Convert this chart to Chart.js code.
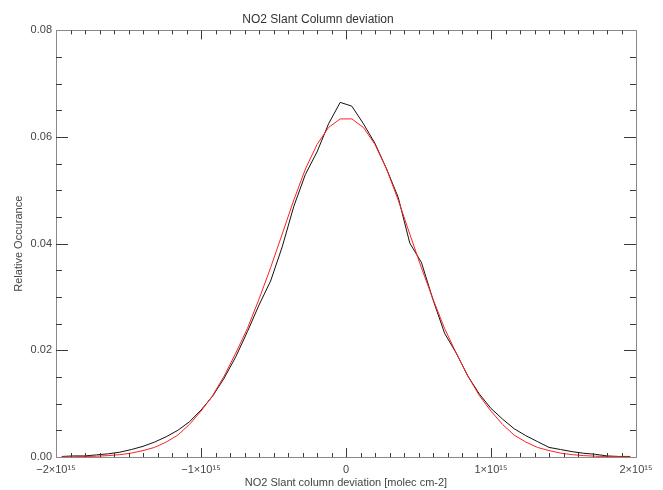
<!DOCTYPE html>
<html>
<head>
    <title>NO2 Slant Column deviation</title>
    <script src="https://cdn.jsdelivr.net/npm/chart.js"></script>
    <style>
        body { margin: 0; background: #fff; }
    </style>
</head>
<body>
    <canvas id="devChart" width="663" height="490"></canvas>

    <script>
        // bin centres, in units of 10^15 molec cm-2
        var binCenters = [-1.96, -1.88, -1.80, -1.72, -1.64, -1.56, -1.48, -1.40, -1.32, -1.24,
                          -1.16, -1.08, -1.00, -0.92, -0.84, -0.76, -0.68, -0.60, -0.52, -0.44,
                          -0.36, -0.28, -0.20, -0.12, -0.04, 0.04, 0.12, 0.20, 0.28, 0.36,
                          0.44, 0.52, 0.60, 0.68, 0.76, 0.84, 0.92, 1.00, 1.08, 1.16,
                          1.24, 1.32, 1.40, 1.48, 1.56, 1.64, 1.72, 1.80, 1.88, 1.96];

        // measured histogram (black)
        var occurance = [0.0001, 0.0002, 0.0002, 0.0004, 0.0006, 0.0009, 0.0014, 0.0020, 0.0028, 0.0038,
                         0.0050, 0.0066, 0.0088, 0.0114, 0.0148, 0.0188, 0.0235, 0.0285, 0.0330, 0.0394,
                         0.0470, 0.0530, 0.0572, 0.0625, 0.0665, 0.0658, 0.0625, 0.0588, 0.0540, 0.0487,
                         0.0401, 0.0365, 0.0295, 0.0232, 0.0195, 0.0152, 0.0118, 0.0091, 0.0071, 0.0053,
                         0.0040, 0.0029, 0.0018, 0.0014, 0.0010, 0.0007, 0.0005, 0.0002, 0.0001, 0.0001];

        // fitted gaussian (red)
        var gaussFit = [0.00002, 0.00005, 0.00009, 0.00015, 0.00026, 0.00044, 0.00073, 0.0012, 0.0018, 0.0028,
                        0.0041, 0.0061, 0.0086, 0.0115, 0.0152, 0.0195, 0.0241, 0.0296, 0.0355, 0.0418,
                        0.0482, 0.0540, 0.0586, 0.0618, 0.0634, 0.0634, 0.0618, 0.0586, 0.0540, 0.0482,
                        0.0418, 0.0355, 0.0296, 0.0241, 0.0195, 0.0152, 0.0115, 0.0086, 0.0061, 0.0041,
                        0.0028, 0.0018, 0.0012, 0.00073, 0.00044, 0.00026, 0.00015, 0.00009, 0.00005, 0.00002];

        var xTickLabels = {'-2': '\u22122\u00d710\u00b9\u2075', '-1': '\u22121\u00d710\u00b9\u2075', '0': '0',
                           '1': '1\u00d710\u00b9\u2075', '2': '2\u00d710\u00b9\u2075'};

        function toPoints(xs, ys) {
            var pts = [];
            for (var i = 0; i < xs.length; i++) {
                pts.push({x: xs[i], y: ys[i]});
            }
            return pts;
        }

        // IDL-style box with inward ticks on all four sides
        var boxTicks = {
            id: 'boxTicks',
            afterDatasetsDraw: function(chart) {
                var ctx = chart.ctx;
                var a = chart.chartArea;
                var xs = chart.scales.x, ys = chart.scales.y;
                ctx.save();
                ctx.lineWidth = 1;
                ctx.strokeStyle = '#8a8a8a';
                ctx.strokeRect(Math.round(a.left) + 0.5, Math.round(a.top) + 0.5,
                               Math.round(a.right - a.left), Math.round(a.bottom - a.top));
                ctx.strokeStyle = '#3a3a3a';
                ctx.beginPath();
                for (var k = -20; k <= 20; k++) {
                    var px = Math.round(xs.getPixelForValue(k / 10)) + 0.5;
                    var len = (k % 10 === 0) ? 9 : 4;
                    if (k === -20 || k === 20) continue;
                    ctx.moveTo(px, a.bottom); ctx.lineTo(px, a.bottom - len);
                    ctx.moveTo(px, a.top); ctx.lineTo(px, a.top + len);
                }
                for (var j = 0; j <= 16; j++) {
                    var py = Math.round(ys.getPixelForValue(j * 0.005)) + 0.5;
                    var ylen = (j % 4 === 0) ? 12 : 6;
                    if (j === 0 || j === 16) continue;
                    ctx.moveTo(a.left, py); ctx.lineTo(a.left + ylen, py);
                    ctx.moveTo(a.right, py); ctx.lineTo(a.right - ylen, py);
                }
                ctx.stroke();
                ctx.restore();
            }
        };

        Chart.defaults.font.family = 'Liberation Sans';
        Chart.defaults.font.size = 11;
        Chart.defaults.color = '#444';

        var ctx = document.getElementById('devChart').getContext('2d');
        var devChart = new Chart(ctx, {
            type: 'line',
            data: {
                datasets: [{
                    label: 'measured',
                    data: toPoints(binCenters, occurance),
                    borderColor: '#111',
                    borderWidth: 1,
                    pointRadius: 0,
                    tension: 0,
                    order: 1
                }, {
                    label: 'gauss fit',
                    data: toPoints(binCenters, gaussFit),
                    borderColor: '#ff2020',
                    borderWidth: 1,
                    pointRadius: 0,
                    tension: 0,
                    order: 0
                }]
            },
            options: {
                responsive: false,
                animation: false,
                layout: { padding: { top: 0, right: 27, left: 0, bottom: 0 } },
                plugins: {
                    legend: { display: false },
                    tooltip: { enabled: false },
                    title: {
                        display: true,
                        text: 'NO2 Slant Column deviation',
                        color: '#333',
                        font: { size: 12, weight: 'normal' },
                        padding: { top: 12, bottom: 4 }
                    }
                },
                scales: {
                    x: {
                        type: 'linear',
                        min: -2,
                        max: 2,
                        grid: { display: false, drawTicks: false },
                        border: { display: false },
                        ticks: {
                            stepSize: 1,
                            padding: 6,
                            maxRotation: 0,
                            callback: function(v) { return xTickLabels[String(v)]; }
                        },
                        title: {
                            display: true,
                            text: 'NO2 Slant column deviation [molec cm-2]',
                            color: '#444',
                            padding: { top: 0, bottom: 0 }
                        },
                        afterFit: function(scale) { scale.height = 33; }
                    },
                    y: {
                        min: 0,
                        max: 0.08,
                        grid: { display: false, drawTicks: false },
                        border: { display: false },
                        ticks: {
                            stepSize: 0.02,
                            padding: 4,
                            callback: function(v) { return v.toFixed(2); }
                        },
                        title: {
                            display: true,
                            text: 'Relative Occurance',
                            color: '#444',
                            padding: { top: 12, bottom: 0 }
                        },
                        afterFit: function(scale) { scale.width = 56; }
                    }
                }
            },
            plugins: [boxTicks]
        });
    </script>
</body>
</html>
